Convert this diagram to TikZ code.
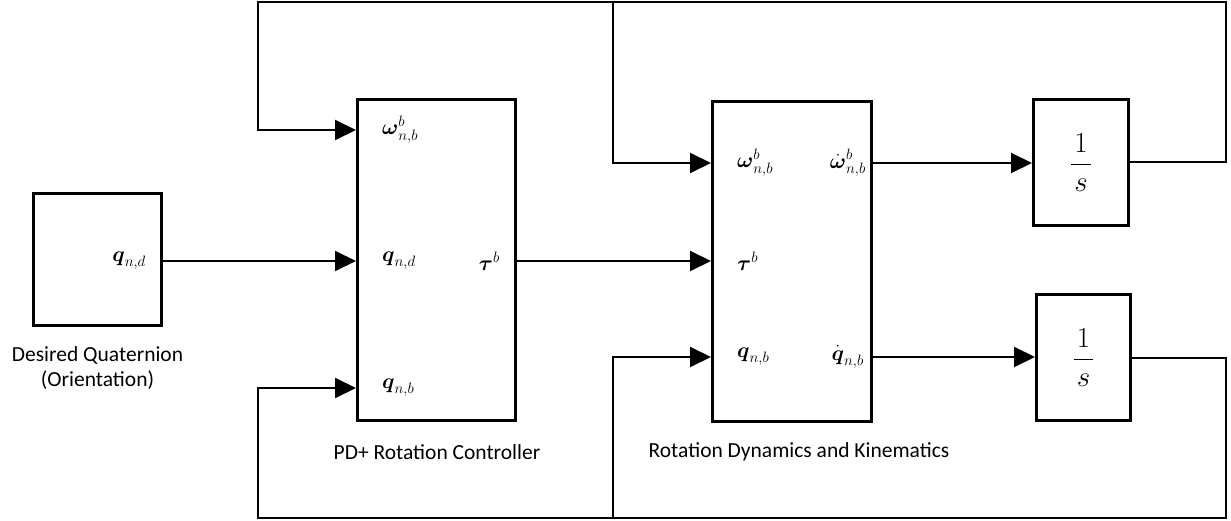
\RequirePackage{fix-cm}
\documentclass[tikz,border=0pt]{standalone}
\usepackage{amsmath}
\usepackage{fontspec}
\setmainfont{Carlito}
\usepackage{tikz}
\usetikzlibrary{arrows.meta, positioning}

\begin{document}
\begin{tikzpicture}[x=1pt, y=-1pt, >={Triangle[length=21pt, width=20pt]},
    every node/.style={font=\fontsize{21.5}{25}\selectfont},
    block/.style={rectangle, draw=black, line width=3pt, inner sep=0pt},
    integ/.style={block, font=\fontsize{29}{34}\selectfont},
    port/.style={inner sep=0pt},
    caption/.style={align=center, inner sep=0pt},
    link/.style={->, line width=2pt},
]
\useasboundingbox (0,0) rectangle (1231,521);

% Blocks
\node[block, minimum width=128pt, minimum height=132pt] (desired) at (97.5,259.5) {};
\node[block, minimum width=158pt, minimum height=321pt] (ctrl) at (436.5,260) {};
\node[block, minimum width=159pt, minimum height=320pt] (dyn) at (792,261.5) {};
\node[integ, minimum width=95pt, minimum height=126pt] (int1) at (1081,162.5) {$\dfrac{\hspace{3pt}1\hspace{3pt}}{s}$};
\node[integ, minimum width=94pt, minimum height=126pt] (int2) at (1083.5,357.5) {$\dfrac{\hspace{3pt}1\hspace{3pt}}{s}$};

% Port labels
\node[port, anchor=east] (qd) at (146,261) {$\boldsymbol{q}_{n,d}$};
\node[port, anchor=west] (c-om) at (382,130) {$\boldsymbol{\omega}^{b}_{n,b}$};
\node[port, anchor=west] (c-qd) at (382,261) {$\boldsymbol{q}_{n,d}$};
\node[port, anchor=west] (c-qb) at (382,388) {$\boldsymbol{q}_{n,b}$};
\node[port, anchor=east] (c-tau) at (500,261) {$\boldsymbol{\tau}^{b}$};
\node[port, anchor=west] (d-om) at (737,163) {$\boldsymbol{\omega}^{b}_{n,b}$};
\node[port, anchor=west] (d-tau) at (737,261) {$\boldsymbol{\tau}^{b}$};
\node[port, anchor=west] (d-qb) at (737,357) {$\boldsymbol{q}_{n,b}$};
\node[port, anchor=east] (d-omd) at (866,163) {$\dot{\boldsymbol{\omega}}^{b}_{n,b}$};
\node[port, anchor=east] (d-qbd) at (864,357) {$\dot{\boldsymbol{q}}_{n,b}$};

% Captions
\node[caption] (desired-cap) at (97.5,368) {Desired Quaternion\\(Orientation)};
\node[caption] (ctrl-cap) at (437,452) {PD+ Rotation Controller};
\node[caption] (dyn-cap) at (799,452) {Rotation Dynamics and Kinematics};

% Feedback corners
\coordinate (top-l) at (258,2);
\coordinate (top-m) at (613,2);
\coordinate (top-r) at (1226,2);
\coordinate (bot-l) at (258,518);
\coordinate (bot-m) at (613,518);
\coordinate (bot-r) at (1226,518);

% Edges
\draw[link] (desired.east |- qd) -- (ctrl.west |- qd);
\draw[link] (ctrl.east |- c-tau) -- (dyn.west |- c-tau);
\draw[link] (dyn.east |- d-omd) -- (int1.west |- d-omd);
\draw[link] (dyn.east |- d-qbd) -- (int2.west |- d-qbd);

% Feedback
\draw[link] (int1.east) -| (top-r) -- (top-l) |- (ctrl.west |- c-om);
\draw[link] (top-m) |- (dyn.west |- d-om);
\draw[link] (int2.east) -| (bot-r) -- (bot-l) |- (ctrl.west |- c-qb);
\draw[link] (bot-m) |- (dyn.west |- d-qb);

\end{tikzpicture}
\end{document}
